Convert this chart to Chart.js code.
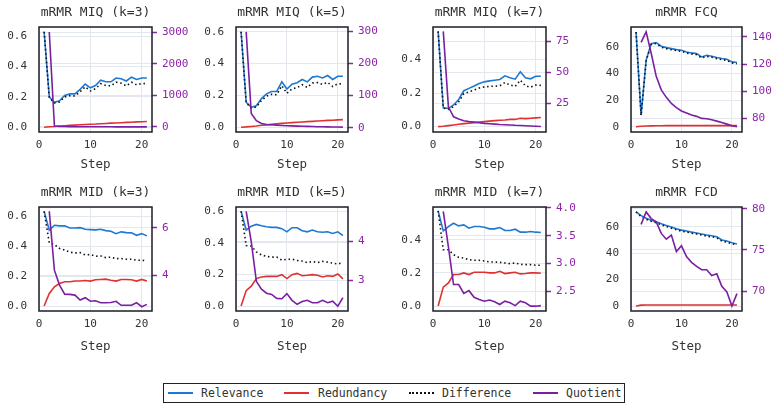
<!DOCTYPE html>
<html>
<head>
<meta charset="utf-8">
<script src="https://cdn.jsdelivr.net/npm/chart.js@4.4.1/dist/chart.umd.min.js"></script>
<style>
  body { margin: 0; background: #fff; width: 781px; height: 410px; position: relative; overflow: hidden; font-family: "DejaVu Sans Mono", monospace; }
  canvas { position: absolute; }
  #legend { position: absolute; left: 163px; top: 383px; width: 460px; height: 18px; border: 1.2px solid #222; background: #fff; }
  #legend .t { position: absolute; top: 1px; font-size: 11.5px; color: #333; line-height: 16px; }
  #legend .l { position: absolute; top: 8px; width: 25px; height: 2px; }
  #legend .d { position: absolute; top: 8px; width: 25px; height: 0; border-top: 2px dotted #111; }
</style>
</head>
<body>
<div id="legend">
  <div class="l" style="left:4px;background:#1f78d1"></div><div class="t" style="left:37px">Relevance</div>
  <div class="l" style="left:120px;background:#e0312f"></div><div class="t" style="left:154px">Redundancy</div>
  <div class="d" style="left:245px"></div><div class="t" style="left:278px">Difference</div>
  <div class="l" style="left:369px;background:#7b1fa2"></div><div class="t" style="left:402px">Quotient</div>
</div>
<script>
const steps = [1, 2, 3, 4, 5, 6, 7, 8, 9, 10, 11, 12, 13, 14, 15, 16, 17, 18, 19, 20, 21];
const xTicks = [0, 10, 20];

// mRMR MIQ (k=3)
const relMIQ3 = [0.63, 0.20, 0.165, 0.175, 0.21, 0.22, 0.22, 0.25, 0.285, 0.26, 0.275, 0.31, 0.30, 0.30, 0.325, 0.32, 0.305, 0.33, 0.315, 0.325, 0.325];
const redMIQ3 = [0, 0.003, 0.005, 0.008, 0.010, 0.012, 0.014, 0.016, 0.018, 0.020, 0.021, 0.023, 0.025, 0.027, 0.028, 0.030, 0.032, 0.033, 0.035, 0.036, 0.038];
const difMIQ3 = [0.63, 0.197, 0.16, 0.167, 0.20, 0.208, 0.206, 0.234, 0.267, 0.24, 0.254, 0.287, 0.275, 0.273, 0.297, 0.29, 0.273, 0.297, 0.28, 0.289, 0.287];
const quoMIQ3 = [null, 3000, 30, 20, 15, 12, 10, 9, 8, 7.5, 7, 6.5, 6, 5.5, 5, 4.8, 4.5, 4.2, 4, 3.8, 3.5];

// mRMR MIQ (k=5)
const relMIQ5 = [0.60, 0.157, 0.125, 0.135, 0.18, 0.21, 0.225, 0.225, 0.285, 0.24, 0.27, 0.28, 0.30, 0.285, 0.315, 0.32, 0.31, 0.325, 0.30, 0.32, 0.32];
const redMIQ5 = [0, 0.002, 0.005, 0.008, 0.012, 0.015, 0.018, 0.021, 0.024, 0.027, 0.029, 0.031, 0.033, 0.035, 0.037, 0.039, 0.041, 0.043, 0.044, 0.046, 0.048];
const difMIQ5 = [0.60, 0.155, 0.12, 0.127, 0.168, 0.195, 0.207, 0.204, 0.261, 0.213, 0.241, 0.249, 0.267, 0.25, 0.278, 0.281, 0.269, 0.282, 0.256, 0.274, 0.272];
const quoMIQ5 = [null, 298, 44, 22, 13, 10, 9, 8, 7, 6, 5.5, 5, 4.5, 4, 3.5, 3, 2.8, 2.5, 2.2, 2, 1.8];

// mRMR MIQ (k=7)
const relMIQ7 = [0.568, 0.113, 0.109, 0.129, 0.162, 0.214, 0.228, 0.242, 0.257, 0.267, 0.273, 0.277, 0.281, 0.303, 0.291, 0.283, 0.327, 0.291, 0.285, 0.30, 0.30];
const redMIQ7 = [0, 0.002, 0.006, 0.010, 0.014, 0.018, 0.021, 0.024, 0.027, 0.030, 0.033, 0.036, 0.038, 0.040, 0.043, 0.043, 0.050, 0.048, 0.050, 0.052, 0.054];
const difMIQ7 = [0.568, 0.111, 0.103, 0.119, 0.148, 0.196, 0.207, 0.218, 0.23, 0.237, 0.24, 0.241, 0.243, 0.263, 0.248, 0.24, 0.277, 0.243, 0.235, 0.248, 0.246];
const quoMIQ7 = [null, 83.3, 22.3, 14.2, 12.4, 11, 10.4, 9.9, 9.4, 8.9, 8.6, 8.3, 8.0, 7.8, 7.6, 7.3, 7.1, 6.9, 6.7, 6.5, 6.3];

// mRMR FCQ
const relFCQ = [71.25, 8.75, 50, 62.5, 63.25, 60.5, 59.5, 58.75, 58, 57.5, 56.25, 55.5, 55, 52.5, 53.75, 53, 52, 51.25, 50.75, 48.75, 48.25];
const redFCQ = [0, 0.3, 0.5, 0.6, 0.7, 0.7, 0.8, 0.8, 0.8, 0.8, 0.8, 0.8, 0.8, 0.8, 0.8, 0.8, 0.8, 0.8, 0.8, 0.8, 0.8];
const difFCQ = [71.25, 8.45, 49.5, 61.9, 62.55, 59.8, 58.7, 57.95, 57.2, 56.7, 55.45, 54.7, 54.2, 51.7, 52.95, 52.2, 51.2, 50.45, 49.95, 47.95, 47.45];
const quoFCQ = [null, 136, 143.7, 128, 111, 101, 95.5, 91, 88, 85.5, 84, 82.5, 81.5, 80, 79.8, 79, 78, 77, 75.8, 74.6, 73.8];

// mRMR MID (k=3)
const relMID3 = [0.633, 0.507, 0.54, 0.536, 0.536, 0.522, 0.522, 0.524, 0.513, 0.511, 0.509, 0.513, 0.504, 0.50, 0.484, 0.496, 0.491, 0.489, 0.473, 0.484, 0.469];
const redMID3 = [0, 0.084, 0.129, 0.151, 0.162, 0.162, 0.167, 0.167, 0.171, 0.167, 0.176, 0.178, 0.18, 0.173, 0.167, 0.178, 0.178, 0.176, 0.167, 0.178, 0.167];
const difMID3 = [0.633, 0.423, 0.411, 0.385, 0.374, 0.36, 0.355, 0.357, 0.342, 0.344, 0.333, 0.335, 0.324, 0.327, 0.317, 0.318, 0.313, 0.313, 0.306, 0.306, 0.302];
const quoMID3 = [null, 6.69, 4.21, 3.58, 3.2, 3.19, 3.16, 2.95, 3.05, 2.9, 2.92, 2.84, 2.84, 2.85, 2.9, 2.73, 2.73, 2.73, 2.84, 2.67, 2.77];

// mRMR MID (k=5)
const relMID5 = [0.60, 0.481, 0.506, 0.517, 0.508, 0.502, 0.498, 0.498, 0.49, 0.47, 0.496, 0.496, 0.477, 0.47, 0.481, 0.47, 0.467, 0.47, 0.46, 0.47, 0.446];
const redMID5 = [0, 0.098, 0.126, 0.174, 0.184, 0.188, 0.188, 0.188, 0.199, 0.174, 0.199, 0.207, 0.192, 0.195, 0.199, 0.195, 0.184, 0.192, 0.188, 0.203, 0.172];
const difMID5 = [0.60, 0.383, 0.38, 0.343, 0.324, 0.314, 0.31, 0.31, 0.291, 0.296, 0.297, 0.289, 0.285, 0.275, 0.282, 0.275, 0.283, 0.278, 0.272, 0.267, 0.274];
const quoMID5 = [null, 4.75, 3.98, 2.98, 2.78, 2.68, 2.65, 2.55, 2.54, 2.67, 2.5, 2.4, 2.47, 2.5, 2.44, 2.44, 2.5, 2.44, 2.48, 2.35, 2.57];

// mRMR MID (k=7)
const relMID7 = [0.574, 0.454, 0.48, 0.50, 0.484, 0.49, 0.47, 0.48, 0.48, 0.476, 0.466, 0.466, 0.474, 0.456, 0.456, 0.464, 0.446, 0.446, 0.45, 0.446, 0.444];
const redMID7 = [0, 0.114, 0.14, 0.19, 0.19, 0.20, 0.19, 0.204, 0.204, 0.204, 0.20, 0.20, 0.21, 0.196, 0.20, 0.204, 0.194, 0.196, 0.20, 0.20, 0.198];
const difMID7 = [0.574, 0.34, 0.34, 0.31, 0.294, 0.29, 0.28, 0.276, 0.276, 0.272, 0.266, 0.266, 0.264, 0.26, 0.256, 0.26, 0.252, 0.25, 0.25, 0.246, 0.246];
const quoMID7 = [null, 3.94, 3.30, 2.62, 2.62, 2.46, 2.51, 2.39, 2.35, 2.32, 2.34, 2.31, 2.26, 2.32, 2.29, 2.24, 2.32, 2.29, 2.23, 2.23, 2.24];

// mRMR FCD
const relFCD = [71.25, 68.5, 66.5, 65, 63.75, 62.3, 61, 59.8, 58.6, 57.5, 56.8, 56, 55.3, 54.6, 53.75, 53.2, 52.5, 50, 49.2, 48, 47];
const redFCD = [0, 0.7, 0.8, 0.8, 0.8, 0.8, 0.8, 0.8, 0.8, 0.8, 0.8, 0.8, 0.8, 0.8, 0.8, 0.8, 0.8, 0.8, 0.8, 0.8, 0.8];
const difFCD = [71.25, 67.8, 65.7, 64.2, 62.95, 61.5, 60.2, 59, 57.8, 56.7, 56, 55.2, 54.5, 53.8, 52.95, 52.4, 51.7, 49.2, 48.4, 47.2, 46.2];
const quoFCD = [null, 78.1, 79.6, 78.8, 78.4, 77, 76.3, 76.8, 74.8, 75.5, 74.2, 73.5, 73, 72.6, 72.6, 71.9, 72.1, 70.6, 69.9, 68.2, 69.7];

// tick values: left axes
const ticksL6 = [0, 0.2, 0.4, 0.6];
const ticksL4 = [0, 0.2, 0.4];
const ticksL60 = [0, 20, 40, 60];
// tick values: right (quotient) axes
const ticksRMIQ3 = [0, 1000, 2000, 3000];
const ticksRMIQ5 = [0, 100, 200, 300];
const ticksRMIQ7 = [25, 50, 75];
const ticksRFCQ = [80, 100, 120, 140];
const ticksRMID3 = [4, 6];
const ticksRMID5 = [3, 4];
const ticksRMID7 = [2.5, 3.0, 3.5, 4.0];
const ticksRFCD = [70, 75, 80];

const BLUE = '#1f78d1', RED = '#e0312f', PURPLE = '#7b1fa2', PURPLE_TXT = '#8e24aa';
const GRID = '#e3e8ef', FONT = '"DejaVu Sans Mono", monospace';

// yl / yr: [min, max, decimals]
const panels = [
  { title: 'mRMR MIQ (k=3)', col: 0, row: 0, rel: relMIQ3, red: redMIQ3, dif: difMIQ3, quo: quoMIQ3, yl: [-0.0315, 0.6615, 1], tl: ticksL6, yr: [-158, 3158, 0], tr: ticksRMIQ3 },
  { title: 'mRMR MIQ (k=5)', col: 1, row: 0, rel: relMIQ5, red: redMIQ5, dif: difMIQ5, quo: quoMIQ5, yl: [-0.03, 0.63, 1], tl: ticksL6, yr: [-13.4, 313, 0], tr: ticksRMIQ5 },
  { title: 'mRMR MIQ (k=7)', col: 2, row: 0, rel: relMIQ7, red: redMIQ7, dif: difMIQ7, quo: quoMIQ7, yl: [-0.032, 0.594, 1], tl: ticksL4, yr: [1.9, 86.8, 0], tr: ticksRMIQ7 },
  { title: 'mRMR FCQ', col: 3, row: 0, rel: relFCQ, red: redFCQ, dif: difFCQ, quo: quoFCQ, yl: [-4, 75, 0], tl: ticksL60, yr: [70, 147.3, 0], tr: ticksRFCQ },
  { title: 'mRMR MID (k=3)', col: 0, row: 1, rel: relMID3, red: redMID3, dif: difMID3, quo: quoMID3, yl: [-0.033, 0.662, 1], tl: ticksL6, yr: [2.49, 6.87, 0], tr: ticksRMID3 },
  { title: 'mRMR MID (k=5)', col: 1, row: 1, rel: relMID5, red: redMID5, dif: difMID5, quo: quoMID5, yl: [-0.031, 0.627, 1], tl: ticksL6, yr: [2.23, 4.86, 0], tr: ticksRMID5 },
  { title: 'mRMR MID (k=7)', col: 2, row: 1, rel: relMID7, red: redMID7, dif: difMID7, quo: quoMID7, yl: [-0.03, 0.598, 1], tl: ticksL4, yr: [2.143, 4.018, 1], tr: ticksRMID7 },
  { title: 'mRMR FCD', col: 3, row: 1, rel: relFCD, red: redFCD, dif: difFCD, quo: quoFCD, yl: [-3.75, 75, 0], tl: ticksL60, yr: [67.6, 80.2, 0], tr: ticksRFCD }
];

// plot-area placement on the page
const colX = [[39, 113], [236, 112], [433, 113], [631, 111]];
const rowY = [{ top: 0, plotH: 105, h: 175 }, { top: 180, plotH: 104, h: 177 }];
const SIDE = 40, TITLE_H = 27;

const frame = {
  id: 'frame',
  afterDatasetsDraw(chart) {
    const a = chart.chartArea, ctx = chart.ctx;
    ctx.save();
    ctx.strokeStyle = '#1d1d28';
    ctx.lineWidth = 1.5;
    ctx.strokeRect(a.left, a.top, a.right - a.left, a.bottom - a.top);
    ctx.restore();
  }
};

const pts = arr => steps.map((s, i) => ({ x: s, y: arr[i] }));
const fixTicks = vals => s => { s.ticks = vals.map(v => ({ value: v })); };

panels.forEach(p => {
  const [px, pw] = colX[p.col];
  const r = rowY[p.row];
  const cv = document.createElement('canvas');
  cv.width = pw + 2 * SIDE;
  cv.height = r.h;
  cv.style.left = (px - SIDE) + 'px';
  cv.style.top = r.top + 'px';
  document.body.appendChild(cv);
  const xh = r.h - TITLE_H - r.plotH;

  new Chart(cv, {
    type: 'line',
    data: {
      datasets: [
        { label: 'Quotient', data: pts(p.quo), yAxisID: 'yr', borderColor: PURPLE, borderWidth: 1.6, order: 0 },
        { label: 'Difference', data: pts(p.dif), yAxisID: 'y', borderColor: '#111', borderWidth: 1.6, borderDash: [1.5, 2.8], order: 1 },
        { label: 'Redundancy', data: pts(p.red), yAxisID: 'y', borderColor: RED, borderWidth: 1.6, order: 2 },
        { label: 'Relevance', data: pts(p.rel), yAxisID: 'y', borderColor: BLUE, borderWidth: 1.6, order: 3 }
      ]
    },
    options: {
      responsive: false,
      devicePixelRatio: 1,
      animation: false,
      layout: { padding: 0 },
      elements: { point: { radius: 0 }, line: { tension: 0 } },
      plugins: {
        legend: { display: false },
        tooltip: { enabled: false },
        title: {
          display: true, text: p.title, color: '#333',
          font: { family: FONT, size: 13, weight: 'normal' },
          padding: { top: 5.2, bottom: 6.2 }
        }
      },
      scales: {
        x: {
          type: 'linear', min: 0, max: 22,
          afterBuildTicks: fixTicks(xTicks),
          afterFit: s => { s.height = xh; },
          border: { display: false },
          grid: { color: GRID, drawTicks: false },
          ticks: { padding: 7, color: '#333', font: { family: FONT, size: 11 } },
          title: { display: true, text: 'Step', color: '#333', font: { family: FONT, size: 12.5 }, padding: { top: 0, bottom: 2.5 } }
        },
        y: {
          position: 'left', min: p.yl[0], max: p.yl[1],
          afterBuildTicks: fixTicks(p.tl),
          afterFit: s => { s.width = SIDE; },
          border: { display: false },
          grid: { color: GRID, drawTicks: false },
          ticks: {
            padding: 12, color: '#333',
            font: { family: FONT, size: 11 },
            callback: v => Number(v).toFixed(p.yl[2])
          }
        },
        yr: {
          position: 'right', min: p.yr[0], max: p.yr[1],
          afterBuildTicks: fixTicks(p.tr),
          afterFit: s => { s.width = SIDE; },
          border: { display: false },
          grid: { color: GRID, tickColor: PURPLE_TXT, tickLength: 5, tickWidth: 1.5 },
          ticks: {
            padding: 5, color: PURPLE_TXT,
            font: { family: FONT, size: 11 },
            callback: v => Number(v).toFixed(p.yr[2])
          }
        }
      }
    },
    plugins: [frame]
  });
});
</script>
</body>
</html>
